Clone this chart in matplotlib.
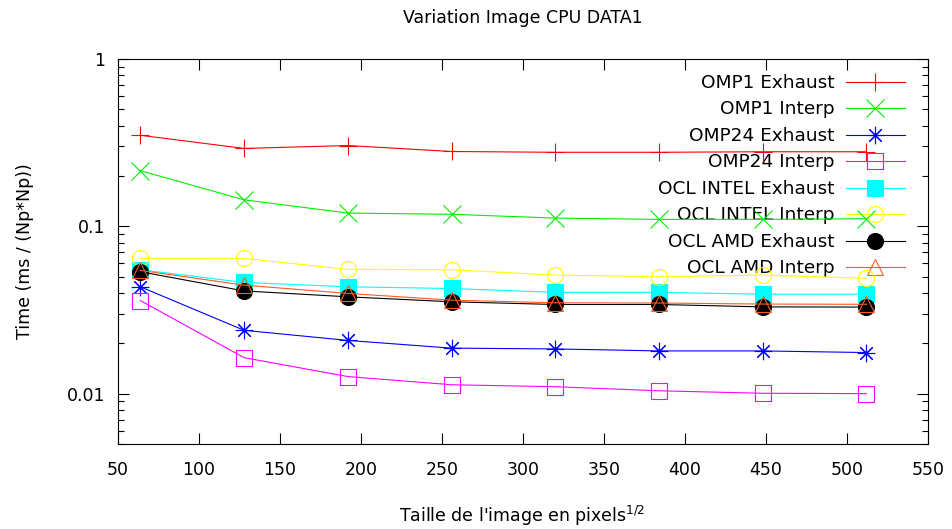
import matplotlib
matplotlib.use('Agg')
import matplotlib.pyplot as plt
from matplotlib import ticker

# image size (pixels^1/2)
sizes = [64, 128, 192, 256, 320, 384, 448, 512]

# time in ms / (Np*Np)
omp1_exhaust = [0.35, 0.292, 0.304, 0.28, 0.277, 0.277, 0.279, 0.279]
omp1_interp = [0.215, 0.144, 0.120, 0.118, 0.112, 0.110, 0.110, 0.111]
omp24_exhaust = [0.0435, 0.0239, 0.0208, 0.0187, 0.0185, 0.0180, 0.0180, 0.0176]
omp24_interp = [0.036, 0.0164, 0.01265, 0.0113, 0.0110, 0.0104, 0.01005, 0.0100]
ocl_intel_exhaust = [0.055, 0.0462, 0.0435, 0.0425, 0.0403, 0.0403, 0.0393, 0.0393]
ocl_intel_interp = [0.0644, 0.0643, 0.0553, 0.0550, 0.0511, 0.0500, 0.0511, 0.0489]
ocl_amd_exhaust = [0.0535, 0.0411, 0.0379, 0.0354, 0.0341, 0.0341, 0.0330, 0.0329]
ocl_amd_interp = [0.0545, 0.0445, 0.0397, 0.0362, 0.0349, 0.0348, 0.0343, 0.0342]

labels = ['OMP1 Exhaust', 'OMP1 Interp', 'OMP24 Exhaust', 'OMP24 Interp',
          'OCL INTEL Exhaust', 'OCL INTEL Interp', 'OCL AMD Exhaust', 'OCL AMD Interp']
series = [omp1_exhaust, omp1_interp, omp24_exhaust, omp24_interp,
          ocl_intel_exhaust, ocl_intel_interp, ocl_amd_exhaust, ocl_amd_interp]

# gnuplot-like point types and colours
colors = ['#ff0000', '#00ee00', '#0000ff', '#ff00ff', '#00ffff', '#ffff00', '#000000', '#ff5a1a']
markers = ['+', 'x', (8, 2, 0), 's', 's', 'o', 'o', '^']
filled = [True, True, True, False, True, False, True, False]
msizes = [12.5, 12.5, 12.5, 11.5, 11.5, 11.5, 11.5, 11.5]

plt.rcParams['font.family'] = ['DejaVu Sans']

fig = plt.figure(figsize=(9.52, 5.29), dpi=100)
ax = fig.add_axes([117.7 / 952, 85 / 529, (928 - 117.7) / 952, (444 - 59) / 529])

for vals, lab, c, m, f, ms in zip(series, labels, colors, markers, filled, msizes):
    ax.plot(sizes, vals, color=c, lw=0.8, marker=m, markersize=ms,
            markeredgewidth=0.8, markeredgecolor=c,
            markerfacecolor=c if f else 'none', label=lab)

ax.set_yscale('log')
ax.set_xlim(50, 550)
ax.set_ylim(0.005, 1)
ax.set_xticks(range(50, 551, 50))
ax.yaxis.set_major_formatter(ticker.FuncFormatter(lambda v, p: f'{v:g}'))
ax.yaxis.set_minor_formatter(ticker.NullFormatter())
ax.yaxis.set_minor_locator(ticker.LogLocator(base=10, subs=range(2, 10)))

ax.tick_params(which='both', direction='in', top=True, right=True, labelsize=12.5, width=0.8)
ax.tick_params(which='major', length=8)
ax.tick_params(which='minor', length=4.5)
ax.tick_params(axis='x', pad=12)
ax.tick_params(axis='y', pad=9)
for sp in ax.spines.values():
    sp.set_linewidth(0.8)

fig.text(0.549, 1 - 18 / 529, 'Variation Image CPU DATA1', ha='center', va='center', fontsize=12.5)
fig.text(25 / 952, 1 - 251.5 / 529, 'Time (ms / (Np*Np))', rotation=90,
         ha='center', va='center', fontsize=12.5)
fig.text(0.549, 1 - 516 / 529, "Taille de l'image en pixels$^{\\mathregular{1/2}}$",
         ha='center', va='center', fontsize=12.5)

leg = ax.legend(loc='upper right', bbox_to_anchor=(1 - 23 / 810, 1 - 15 / 385),
                frameon=False, markerfirst=False, fontsize=13.3, handlelength=3.2,
                handletextpad=0.6, labelspacing=0.46, borderaxespad=0, borderpad=0)
leg.set_zorder(1)

fig.savefig('out.png', dpi=100)
